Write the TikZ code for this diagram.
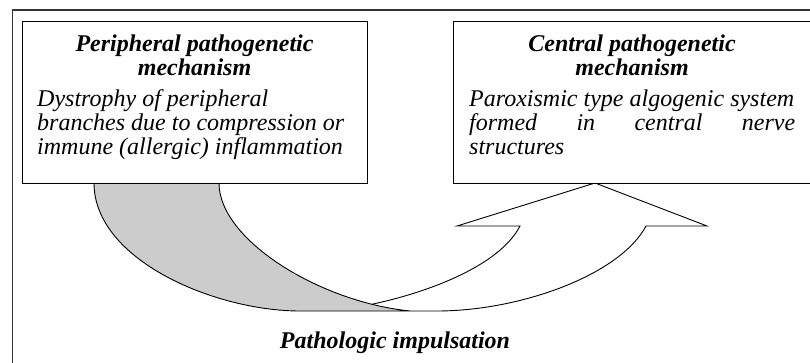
\documentclass[tikz,border=0pt]{standalone}
\usepackage{fontspec}
\setmainfont{Liberation Serif}
\begin{document}
\begin{tikzpicture}[x=1pt,y=-1pt,
  box/.style={draw=black, line width=0.9pt, minimum width=#1, minimum height=162, anchor=north west, inner sep=0pt, fill=white},
  ttl/.style={anchor=base, inner sep=0pt, font=\fontsize{24}{26}\selectfont\bfseries\itshape},
  body/.style={anchor=base west, inner sep=0pt, font=\fontsize{24}{26}\selectfont\itshape},
  band/.style={draw=black, line width=0.9pt, fill=black!20},
  arr/.style={draw=black, line width=0.9pt, line join=miter}]
\useasboundingbox (0,0) rectangle (810,363);
\clip (0,0) rectangle (810,363);
% outer frame (cut off on the right and at the bottom)
\draw[line width=1.6pt, black!80] (12.5,10) rectangle (850,400);
% grey band of the curved arrow
\coordinate (bo) at (94,183);
\coordinate (bi) at (219,183);
\coordinate (bl) at (300,311);
\coordinate (bm) at (410,311);
\path[band] (bo) .. controls (94,260) and (215,311) .. (bl) -- (bm)
  .. controls (320,302) and (219,240) .. (bi) -- cycle;
\path (bi) .. controls (219,240) and (320,302) .. (bm) coordinate[pos=0.86] (j);
% white arrow
\coordinate (hi) at (520,226);
\coordinate (bl1) at (457,226);
\coordinate (tip) at (595,183);
\coordinate (br1) at (707,226);
\coordinate (ho) at (646,226);
\coordinate (be) at (437,311);
\draw[arr] (j) .. controls (430,292) and (500,265) .. (hi) -- (bl1) -- (tip) -- (br1) -- (ho)
  .. controls (620,275) and (520,311) .. (be) -- (bm);
% boxes
\node[box=345] (L) at (22,21) {};
\node[box=360] (R) at (453,21) {};
% left box text
\node[ttl] (lt1) at (194.5,52) {Peripheral pathogenetic};
\node[ttl] (lt2) at (194.5,76) {mechanism};
\node[body] (lb1) at (37,107) {Dystrophy of peripheral};
\node[body] (lb2) at (37,131) {branches due to compression or};
\node[body] (lb3) at (37,155) {immune (allergic) inflammation};
% right box text
\node[ttl] (rt1) at (632,52) {Central pathogenetic};
\node[ttl] (rt2) at (632,76) {mechanism};
\node[body] (rb1) at (469,107) {Paroxismic type algogenic system};
\node[body] (rb2) at (469,131) {\makebox[326pt][s]{formed in central nerve}};
\node[body] (rb3) at (469,155) {structures};
% label
\node[ttl] (pi) at (395,348) {Pathologic impulsation};
\end{tikzpicture}
\end{document}
